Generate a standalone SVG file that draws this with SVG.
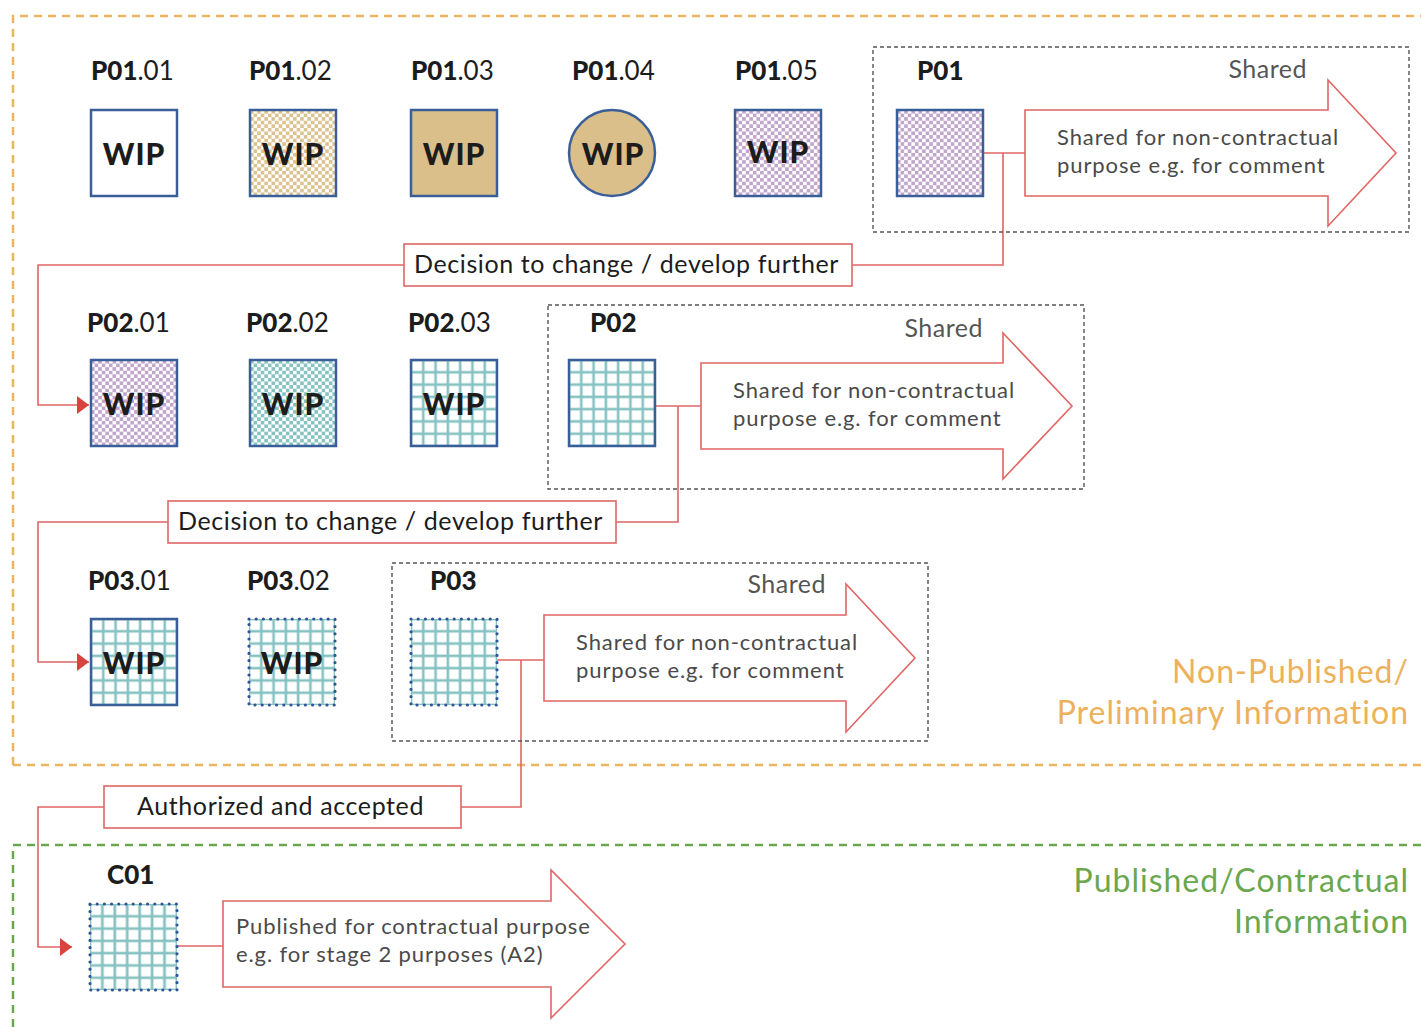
<svg xmlns="http://www.w3.org/2000/svg" width="1421" height="1027" viewBox="0 0 1421 1027">
<style>
  .lbl{font-family:Lato,"Noto Sans",sans-serif;font-size:26px;fill:#1c1c1c}
  .b{font-weight:900}
  .r{font-weight:400}
  .wip{font-family:Lato,"Noto Sans",sans-serif;font-size:30px;font-weight:900;fill:#1c1c1c;text-anchor:middle;letter-spacing:1px}
  .shared{font-family:Lato,"Noto Sans",sans-serif;font-size:25px;fill:#555;text-anchor:end;letter-spacing:0.5px}
  .atext{font-family:Lato,"Noto Sans",sans-serif;font-size:22px;fill:#4a4a4a;letter-spacing:0.9px}
  .dec{font-family:Lato,"Noto Sans",sans-serif;font-size:25px;fill:#1c1c1c;letter-spacing:0.6px}
  .sq{stroke:#3a5f98;stroke-width:2.5}
  .dot{fill:none;stroke:#2f5596;stroke-width:3.2;stroke-dasharray:0 7.2;stroke-linecap:round}
  .grp{fill:none;stroke:#555;stroke-width:1.4;stroke-dasharray:4 3}
  .arrow{fill:#fff;stroke:#e06664;stroke-width:1.6}
  .con{fill:none;stroke:#e06664;stroke-width:1.6}
  .lbox{fill:#fff;stroke:#e06664;stroke-width:1.6}
  .side{font-family:Lato,"Noto Sans",sans-serif;font-size:32px;text-anchor:end;letter-spacing:1px}
</style>
<defs>
  <pattern id="chkTan" patternUnits="objectBoundingBox" width="0.0833333" height="0.0833333">
    <rect width="7.2" height="7.2" fill="#fff"/>
    <rect width="3.6" height="3.6" fill="#dcc28e"/>
    <rect x="3.6" y="3.6" width="3.6" height="3.6" fill="#dcc28e"/>
  </pattern>
  <pattern id="chkPur" patternUnits="objectBoundingBox" width="0.0833333" height="0.0833333">
    <rect width="7.2" height="7.2" fill="#fff"/>
    <rect width="3.6" height="3.6" fill="#c2a5cb"/>
    <rect x="3.6" y="3.6" width="3.6" height="3.6" fill="#c2a5cb"/>
  </pattern>
  <pattern id="chkTeal" patternUnits="objectBoundingBox" width="0.0833333" height="0.0833333">
    <rect width="7.2" height="7.2" fill="#fff"/>
    <rect width="3.6" height="3.6" fill="#86c2c2"/>
    <rect x="3.6" y="3.6" width="3.6" height="3.6" fill="#86c2c2"/>
  </pattern>
  <pattern id="grid" patternUnits="objectBoundingBox" width="0.1428571" height="0.1428571">
    <rect width="12.3" height="12.3" fill="#fff"/>
    <rect x="-1.3" y="0" width="2.6" height="12.3" fill="#86c2c2"/>
    <rect x="11" y="0" width="2.6" height="12.3" fill="#86c2c2"/>
    <rect x="0" y="-1.3" width="12.3" height="2.6" fill="#86c2c2"/>
    <rect x="0" y="11" width="12.3" height="2.6" fill="#86c2c2"/>
  </pattern>
  <marker id="tri" markerUnits="userSpaceOnUse" markerWidth="13" markerHeight="18" refX="12" refY="9" orient="auto">
    <path d="M0,0 L12,9 L0,18 Z" fill="#d9433d"/>
  </marker>
</defs>

<!-- zones -->
<g id="zone-nonpublished">
  <path d="M13,765 V16 H1421" fill="none" stroke="#eeb35f" stroke-width="2.5" stroke-dasharray="8 6"/>
  <path d="M13,765 H1421" fill="none" stroke="#eeb35f" stroke-width="2.5" stroke-dasharray="8 6"/>
  <text class="side" x="1409" y="683" fill="#edb15c">Non-Published/</text>
  <text class="side" x="1409" y="724" fill="#edb15c" letter-spacing="1.4">Preliminary Information</text>
</g>
<g id="zone-published">
  <path d="M13,1027 V845 H1421" fill="none" stroke="#6aa74e" stroke-width="2.5" stroke-dasharray="8 6"/>
  <text class="side" x="1409" y="892" fill="#6aa74e">Published/Contractual</text>
  <text class="side" x="1409" y="933" fill="#6aa74e">Information</text>
</g>

<!-- connectors -->
<g id="connectors">
  <path class="con" d="M983,153 H1025"/>
  <path class="con" d="M1003,153 V265 H38 V405 H89" marker-end="url(#tri)"/>
  <path class="con" d="M656,406 H701"/>
  <path class="con" d="M678,406 V522 H38 V662 H89" marker-end="url(#tri)"/>
  <path class="con" d="M497,660 H544"/>
  <path class="con" d="M521,660 V807 H38 V947 H72" marker-end="url(#tri)"/>
  <path class="con" d="M177,946 H223"/>
  <g id="label-decision1">
    <rect class="lbox" x="404" y="244" width="448" height="42"/>
    <text class="dec" x="414" y="273">Decision to change / develop further</text>
  </g>
  <g id="label-decision2">
    <rect class="lbox" x="168" y="501" width="448" height="42"/>
    <text class="dec" x="178" y="530">Decision to change / develop further</text>
  </g>
  <g id="label-authorized">
    <rect class="lbox" x="104" y="786" width="357" height="42"/>
    <text class="dec" x="137" y="815" letter-spacing="1">Authorized and accepted</text>
  </g>
</g>

<!-- Row 1 -->
<g id="P01.01">
  <text class="lbl" x="91" y="80"><tspan class="b">P01</tspan><tspan class="r">.01</tspan></text>
  <rect class="sq" x="91" y="110" width="86" height="86" fill="#fff"/>
  <text class="wip" x="134" y="165">WIP</text>
</g>
<g id="P01.02">
  <text class="lbl" x="249" y="80"><tspan class="b">P01</tspan><tspan class="r">.02</tspan></text>
  <rect class="sq" x="250" y="110" width="86" height="86" fill="url(#chkTan)"/>
  <text class="wip" x="293" y="165">WIP</text>
</g>
<g id="P01.03">
  <text class="lbl" x="411" y="80"><tspan class="b">P01</tspan><tspan class="r">.03</tspan></text>
  <rect class="sq" x="411" y="110" width="86" height="86" fill="#dbbf8b"/>
  <text class="wip" x="454" y="165">WIP</text>
</g>
<g id="P01.04">
  <text class="lbl" x="572" y="80"><tspan class="b">P01</tspan><tspan class="r">.04</tspan></text>
  <circle class="sq" cx="612" cy="153" r="43" fill="#dbbf8b"/>
  <text class="wip" x="613" y="165">WIP</text>
</g>
<g id="P01.05">
  <text class="lbl" x="735" y="80"><tspan class="b">P01</tspan><tspan class="r">.05</tspan></text>
  <rect class="sq" x="735" y="110" width="86" height="86" fill="url(#chkPur)"/>
  <text class="wip" x="778" y="163">WIP</text>
</g>
<g id="P01">
  <rect class="grp" x="873" y="47" width="536" height="185"/>
  <text class="lbl b" x="917" y="80">P01</text>
  <text class="shared" x="1307" y="78">Shared</text>
  <rect class="sq" x="897" y="110" width="86" height="86" fill="url(#chkPur)"/>
  <path class="arrow" d="M1025,110 H1328 V80 L1396,153 L1328,226 V196 H1025 Z"/>
  <text class="atext" x="1057" y="145">Shared for non-contractual</text>
  <text class="atext" x="1057" y="173">purpose e.g. for comment</text>
</g>

<!-- Row 2 -->
<g id="P02.01">
  <text class="lbl" x="87" y="332"><tspan class="b">P02</tspan><tspan class="r">.01</tspan></text>
  <rect class="sq" x="91" y="360" width="86" height="86" fill="url(#chkPur)"/>
  <text class="wip" x="134" y="415">WIP</text>
</g>
<g id="P02.02">
  <text class="lbl" x="246" y="332"><tspan class="b">P02</tspan><tspan class="r">.02</tspan></text>
  <rect class="sq" x="250" y="360" width="86" height="86" fill="url(#chkTeal)"/>
  <text class="wip" x="293" y="415">WIP</text>
</g>
<g id="P02.03">
  <text class="lbl" x="408" y="332"><tspan class="b">P02</tspan><tspan class="r">.03</tspan></text>
  <rect class="sq" x="411" y="360" width="86" height="86" fill="url(#grid)"/>
  <text class="wip" x="454" y="415">WIP</text>
</g>
<g id="P02">
  <rect class="grp" x="548" y="305" width="536" height="184"/>
  <text class="lbl b" x="590" y="332">P02</text>
  <text class="shared" x="983" y="337">Shared</text>
  <rect class="sq" x="569" y="360" width="86" height="86" fill="url(#grid)"/>
  <path class="arrow" d="M701,363 H1003 V333 L1072,406 L1003,479 V449 H701 Z"/>
  <text class="atext" x="733" y="398">Shared for non-contractual</text>
  <text class="atext" x="733" y="426">purpose e.g. for comment</text>
</g>

<!-- Row 3 -->
<g id="P03.01">
  <text class="lbl" x="88" y="590"><tspan class="b">P03</tspan><tspan class="r">.01</tspan></text>
  <rect class="sq" x="91" y="619" width="86" height="86" fill="url(#grid)"/>
  <text class="wip" x="134" y="674">WIP</text>
</g>
<g id="P03.02">
  <text class="lbl" x="247" y="590"><tspan class="b">P03</tspan><tspan class="r">.02</tspan></text>
  <rect x="249" y="619" width="86" height="86" fill="url(#grid)"/>
  <rect class="dot" x="249" y="619" width="86" height="86"/>
  <text class="wip" x="292" y="674">WIP</text>
</g>
<g id="P03">
  <rect class="grp" x="392" y="563" width="536" height="178"/>
  <text class="lbl b" x="430" y="590">P03</text>
  <text class="shared" x="826" y="593">Shared</text>
  <rect x="411" y="619" width="86" height="86" fill="url(#grid)"/>
  <rect class="dot" x="411" y="619" width="86" height="86"/>
  <path class="arrow" d="M544,615 H846 V584 L915,658 L846,732 V701 H544 Z"/>
  <text class="atext" x="576" y="650">Shared for non-contractual</text>
  <text class="atext" x="576" y="678">purpose e.g. for comment</text>
</g>

<!-- C01 -->
<g id="C01">
  <text class="lbl b" x="107" y="884">C01</text>
  <rect x="90" y="904" width="87" height="86" fill="url(#grid)"/>
  <rect class="dot" x="90" y="904" width="87" height="86"/>
  <path class="arrow" d="M223,901 H551 V870 L625,944 L551,1018 V987 H223 Z"/>
  <text class="atext" x="236" y="934">Published for contractual purpose</text>
  <text class="atext" x="236" y="962">e.g. for stage 2 purposes (A2)</text>
</g>
</svg>
